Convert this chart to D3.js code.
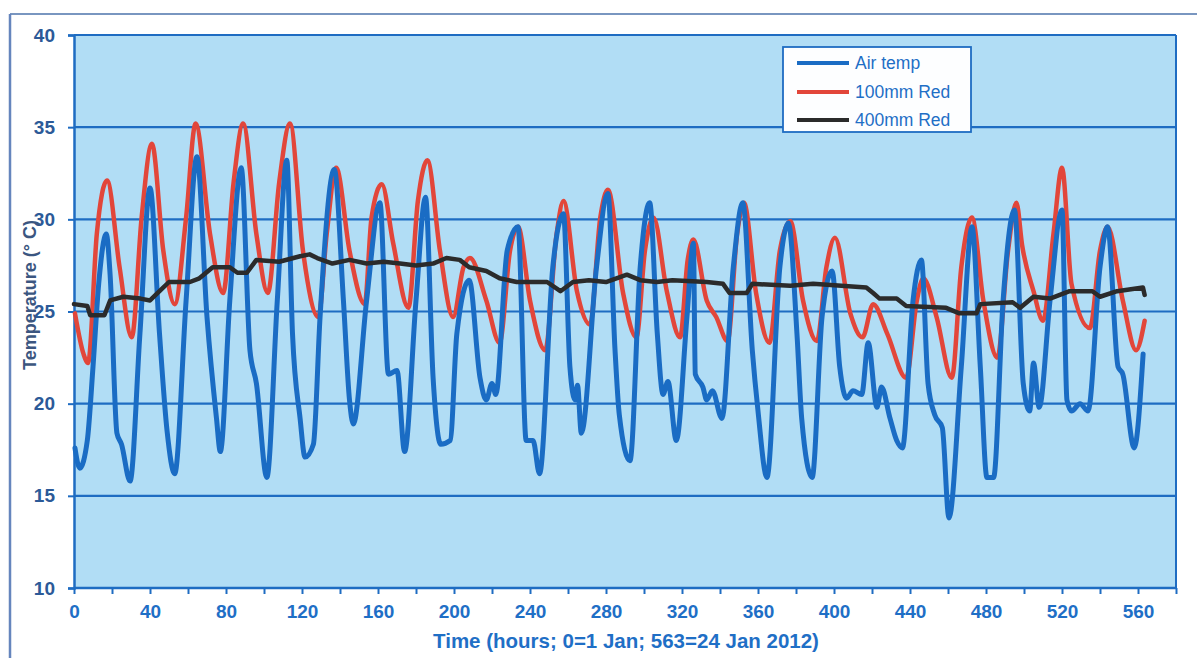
<!DOCTYPE html>
<html>
<head>
<meta charset="utf-8">
<script src="https://cdn.jsdelivr.net/npm/d3@7"></script>
<style>
  html, body { margin: 0; padding: 0; background: #ffffff; }
  svg { display: block; }
</style>
</head>
<body>
<svg id="chart" width="1197" height="658"></svg>
<script>
// Hourly readings, 1–24 Jan 2012: [hour, °C]
const airTemp = [
  [0.5,17.6],[3,16.5],[7,18.0],[10,22],[13,26.5],[17,29.2],[19,27],[22.6,18.4],[25,17.8],[29.5,15.8],
  [34.7,23.8],[40,31.7],[45,23.8],[49,18.5],[53,16.2],[59,25.6],[64.7,33.4],[70,24.7],[75,19.2],[77,17.4],
  [82,25.6],[88,32.8],[92.6,22.9],[96,21.1],[101.5,16.0],[107,25.6],[112,33.2],[115,23.8],[119,19.2],[121.6,17.1],
  [126,17.8],[129.5,24.7],[137,32.7],[141.8,25.6],[145,20.2],[147,18.9],[154,25.6],[161,30.9],[165.5,21.6],[170,21.8],
  [174,17.4],[180,25.6],[185,31.2],[189,21.4],[193,17.8],[198,18.0],[201.5,23.8],[208,26.7],[213.7,21.4],[217,20.2],
  [220,21.1],[222,20.5],[228,28.3],[233.7,29.6],[238,18.0],[241.6,18.0],[245,16.2],[252,27.4],[257.6,30.3],[261,22.0],
  [263.7,20.2],[265,21.0],[267,18.4],[275,27.4],[281,31.4],[284.7,23.0],[287,19.4],[292.6,16.9],[298,27.4],[303,30.9],
  [307,23.8],[310,20.5],[312.6,21.2],[317,18.0],[322.6,24.7],[326,28.7],[327,21.6],[331,20.9],[333,20.2],[336,20.7],
  [341,19.2],[347,27.4],[352,30.9],[357,22.9],[360,19.6],[364.7,16.0],[371.5,27.4],[376,29.8],[380.5,23.8],[383,19.2],
  [388.5,16.0],[393.7,24.7],[399,27.2],[403,22.0],[406.6,20.3],[410,20.7],[414.6,20.5],[418,23.3],[422.6,19.8],[425,20.9],
  [429.5,19.2],[433,18.0],[436,17.6],[441.6,25.6],[446,27.8],[449.5,21.1],[453,19.4],[457,18.7],[460.5,13.8],[467,22],
  [472.6,29.6],[477,22],[480.5,16.0],[484,16.0],[489,25.6],[495,30.5],[499.6,21.1],[503,19.6],[505,22.2],[508,19.8],
  [513.7,25.6],[520,30.5],[522.6,20.2],[525,19.6],[529.5,20.0],[533.7,19.6],[540,27.4],[544,29.6],[549.5,22.0],[552,21.6],
  [558,17.6],[562.7,22.7]
];

const red100 = [
  [0.5,24.9],[5,22.7],[7.4,22.2],[12,29.2],[17.4,32.1],[24,27.4],[30.4,23.6],[35.6,30.1],[41,34.1],[47,28.3],
  [53,25.4],[59,30.1],[64,35.2],[71.6,29.2],[78.5,26.0],[84,32],[89,35.2],[96,29.2],[102,26.0],[108,32],
  [113.7,35.2],[120.5,28.3],[128.6,24.7],[133,29.2],[138,32.8],[145,28.3],[153,25.4],[156.6,30.1],[162,31.9],[168,28.7],
  [176,25.2],[181,31.0],[186,33.2],[192.6,28.3],[199.5,24.7],[205,27.4],[208.4,27.9],[217,25.6],[224,23.3],[229.5,28.3],
  [233.7,29.6],[240,25.6],[248,22.9],[254,29.2],[257.6,31.0],[264.7,26.1],[271.6,24.3],[277,30.1],[281,31.6],[289,26.0],
  [296,23.6],[300.5,28.3],[305,30.1],[312,26.1],[319,23.6],[323,27.8],[326,28.9],[333,25.6],[338,24.7],[344,23.4],
  [349,29.2],[352.6,30.9],[359,26.0],[366,23.3],[371.5,28.3],[377,29.9],[383.7,25.6],[391,23.4],[396,27.4],[400.5,29.0],
  [408.6,24.9],[415,23.6],[420.6,25.4],[428,23.8],[438,21.4],[443.6,25.6],[447,26.8],[454,24.7],[462,21.4],[467,27.4],
  [472.6,30.1],[478.6,25.6],[486,22.5],[491.6,28.3],[496,30.9],[499,28.6],[505,26.1],[510,24.5],[515.5,29.2],[520,32.8],
  [525,26.5],[534.7,24.1],[540,28.3],[544,29.6],[552,25.6],[559,22.9],[563.5,24.5]
];

const red400 = [
  [0,25.4],[7,25.3],[8.5,24.8],[16,24.8],[19,25.6],[26,25.8],[35,25.7],[40,25.6],[45,26.1],[50,26.6],
  [61,26.6],[66,26.8],[73,27.4],[82,27.4],[86,27.1],[91,27.1],[96,27.8],[108,27.7],[119,28.0],[124,28.1],
  [128,27.9],[136,27.6],[145,27.8],[154,27.6],[163,27.7],[171.6,27.6],[180,27.5],[189,27.6],[196,27.9],[203,27.8],
  [208,27.4],[217,27.2],[224,26.8],[233,26.6],[249,26.6],[256,26.1],[262.6,26.6],[271,26.7],[280,26.6],[291,27.0],
  [298,26.7],[306.7,26.6],[315,26.7],[333,26.6],[341.6,26.5],[345,26.0],[354,26.0],[357,26.5],[377,26.4],[389,26.5],
  [417,26.3],[420.6,26.0],[424,25.7],[433,25.7],[438,25.3],[459,25.2],[466,24.9],[475,24.9],[477,25.4],[494,25.5],
  [498,25.2],[505,25.8],[513.7,25.7],[524,26.1],[536,26.1],[540,25.8],[549,26.1],[562.6,26.3],[563.5,25.9]
];

const yTicks = [10, 15, 20, 25, 30, 35, 40];
const xTickLabels = [0, 40, 80, 120, 160, 200, 240, 280, 320, 360, 400, 440, 480, 520, 560];
const xTickMarks = d3.range(0, 581, 20);
const seriesNames = ["Air temp", "100mm Red", "400mm Red"];

const svg = d3.select("#chart");
const plot = { left: 74, right: 1176, top: 35, bottom: 588 };
const font = "Liberation Sans, Arial, sans-serif";

const x = d3.scaleLinear().domain([0, 580]).range([plot.left, plot.right]);
const y = d3.scaleLinear().domain([10, 40]).range([plot.bottom, plot.top]);

const blue = "#1e6cc2";
const labelBlue = "#1f6fc6";

// outer frame
svg.append("line").attr("x1", 10).attr("x2", 1197).attr("y1", 14).attr("y2", 14)
  .attr("stroke", "#4d73ab").attr("stroke-width", 1.5);
svg.append("line").attr("x1", 10).attr("x2", 10).attr("y1", 14).attr("y2", 658)
  .attr("stroke", "#6585bd").attr("stroke-width", 2.5);

// plot background
svg.append("rect")
  .attr("x", plot.left).attr("y", plot.top)
  .attr("width", plot.right - plot.left).attr("height", plot.bottom - plot.top)
  .attr("fill", "#b1ddf5");

// horizontal gridlines
svg.append("g").selectAll("line").data(yTicks).join("line")
  .attr("x1", plot.left).attr("x2", plot.right)
  .attr("y1", d => y(d)).attr("y2", d => y(d))
  .attr("stroke", blue).attr("stroke-width", 2.2);

// plot border (right edge)
svg.append("line").attr("x1", plot.right).attr("x2", plot.right)
  .attr("y1", plot.top).attr("y2", plot.bottom)
  .attr("stroke", blue).attr("stroke-width", 2);

// y axis
const yAxis = d3.axisLeft(y).tickValues(yTicks).tickSize(6).tickPadding(13).tickFormat(d3.format("d"));
const gy = svg.append("g").attr("transform", `translate(${plot.left},0)`).call(yAxis);
gy.select(".domain").attr("stroke", blue).attr("stroke-width", 2.5);
gy.selectAll(".tick line").attr("stroke", blue).attr("stroke-width", 2);
gy.selectAll(".tick text")
  .attr("fill", "#2c5a98").attr("font-family", font)
  .attr("font-size", 19).attr("font-weight", "bold");

// x axis: ticks every 20 h, labels every 40 h
const xAxis = d3.axisBottom(x).tickValues(xTickMarks).tickSize(6).tickPadding(11)
  .tickFormat(d => xTickLabels.includes(d) ? d : "");
const gx = svg.append("g").attr("transform", `translate(0,${plot.bottom})`).call(xAxis);
gx.select(".domain").attr("stroke", blue).attr("stroke-width", 2.5).attr("d", `M${plot.left},0H${plot.right}`);
gx.selectAll(".tick line").attr("stroke", blue).attr("stroke-width", 2);
gx.selectAll(".tick text")
  .attr("fill", labelBlue).attr("font-family", font)
  .attr("font-size", 19).attr("font-weight", "bold");

// axis titles
svg.append("text")
  .attr("x", 626).attr("y", 648).attr("text-anchor", "middle")
  .attr("fill", labelBlue).attr("font-family", font)
  .attr("font-size", 20.5).attr("font-weight", "bold")
  .text("Time (hours; 0=1 Jan; 563=24 Jan 2012)");

svg.append("text")
  .attr("transform", "translate(36,295) rotate(-90)")
  .attr("text-anchor", "middle")
  .attr("fill", "#3b5680").attr("font-family", font)
  .attr("font-size", 18).attr("font-weight", "bold")
  .text("Temperature (° C)");

// series
const line = d3.line().x(d => x(d[0])).y(d => y(d[1])).curve(d3.curveMonotoneX);
const stepLine = d3.line().x(d => x(d[0])).y(d => y(d[1]));

const g = svg.append("g").attr("fill", "none").attr("stroke-linejoin", "round").attr("stroke-linecap", "round");
g.append("path").datum(red100).attr("d", line).attr("stroke", "#e2463a").attr("stroke-width", 4.5);
g.append("path").datum(airTemp).attr("d", line).attr("stroke", "#1a6cc4").attr("stroke-width", 5);
g.append("path").datum(red400).attr("d", stepLine).attr("stroke", "#2b2b2b").attr("stroke-width", 4.5);

// legend
const legend = svg.append("g");
legend.append("rect")
  .attr("x", 783).attr("y", 47).attr("width", 188).attr("height", 85)
  .attr("fill", "#fdfeff").attr("stroke", blue).attr("stroke-width", 1.8);
const legendColors = ["#1a6cc4", "#e2463a", "#2b2b2b"];
const legendY = [63, 92, 120];
seriesNames.forEach((name, i) => {
  legend.append("line")
    .attr("x1", 797).attr("x2", 849).attr("y1", legendY[i]).attr("y2", legendY[i])
    .attr("stroke", legendColors[i]).attr("stroke-width", 4);
  legend.append("text")
    .attr("x", 855).attr("y", legendY[i] + 6)
    .attr("fill", labelBlue).attr("font-family", font)
    .attr("font-size", 17.5)
    .text(name);
});
</script>
</body>
</html>
